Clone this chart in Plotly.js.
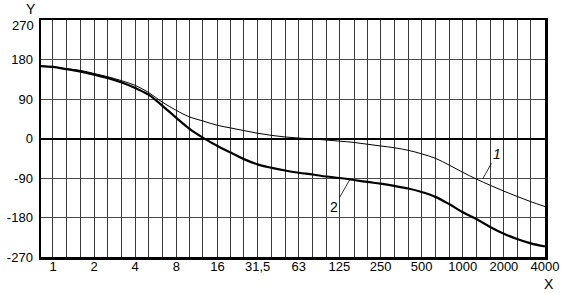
<!DOCTYPE html>
<html>
<head>
<meta charset="utf-8">
<script src="https://cdn.plot.ly/plotly-3.0.1.min.js"></script>
<style>html,body{margin:0;padding:0;background:#fff;}#chart{width:564px;height:293px;}</style>
</head>
<body>
<div id="chart"></div>
<script>
// Third-octave frequencies (nominal)
const freqs = [0.8, 1, 1.25, 1.6, 2, 2.5, 3.15, 4, 5, 6.3, 8, 10, 12.5, 16, 20, 25, 31.5, 40, 50, 63, 80, 100, 125, 160, 200, 250, 315, 400, 500, 630, 800, 1000, 1250, 1600, 2000, 2500, 3150, 4000];
// Curve 1 (thin)
const curve1 = [165, 163, 159, 155, 148, 141, 132, 121, 105, 83, 64, 49, 40, 30, 24, 18, 12, 7, 3.5, 1, -1, -3.5, -6, -9, -13, -17, -21, -27, -35, -45, -61, -77, -92, -107, -120, -132, -144, -155];
// Curve 2 (thick)
const curve2 = [165, 163, 158, 152.5, 145.5, 138, 128, 115, 100, 75, 47, 22, 2, -17, -32, -47, -59, -67, -73, -78, -82, -86.6, -90, -94.5, -99, -103, -108, -114, -122, -133, -150, -168, -183, -202, -217, -229, -239, -246];
// Grid / tick positions and labels
const gridFreqs = freqs.slice(1);
const labelMap = {1:"1", 2:"2", 4:"4", 8:"8", 16:"16", 31.5:"31,5", 63:"63", 125:"125", 250:"250", 500:"500", 1000:"1000", 2000:"2000", 4000:"4000"};
const tickText = gridFreqs.map(f => labelMap[f] !== undefined ? labelMap[f] : "");
const yTicks = [-270, -180, -90, 0, 90, 180, 270];
const yTickText = ["-270", "-180", "-90", "0", "90", "180", ""];
const yTopLabel = "270";

const font = {family: "Liberation Sans, Arial, sans-serif", size: 13, color: "#000"};

const traces = [
  {x: freqs, y: curve1, type: "scatter", mode: "lines", line: {color: "#000", width: 1, shape: "spline"}, name: "1", hoverinfo: "skip"},
  {x: freqs, y: curve2, type: "scatter", mode: "lines", line: {color: "#000", width: 2.2, shape: "spline"}, name: "2", hoverinfo: "skip"}
];

const layout = {
  width: 564, height: 293,
  margin: {l: 41, r: 19, t: 20, b: 36, pad: 0},
  paper_bgcolor: "#fff", plot_bgcolor: "#fff",
  showlegend: false,
  font: font,
  xaxis: {
    type: "log",
    range: [Math.log10(0.817), Math.log10(4000)],
    tickmode: "array", tickvals: gridFreqs, ticktext: tickText,
    showgrid: true, gridcolor: "#3a3a3a", gridwidth: 1,
    showline: true, linecolor: "#000", linewidth: 2.5, mirror: true,
    ticks: "", zeroline: false, tickfont: font, ticklabelstandoff: -4
  },
  yaxis: {
    range: [-270, 270],
    tickmode: "array", tickvals: yTicks, ticktext: yTickText,
    showgrid: true, gridcolor: "#4a4a4a", gridwidth: 1,
    zeroline: true, zerolinecolor: "#000", zerolinewidth: 2,
    showline: true, linecolor: "#000", linewidth: 2.5, mirror: true,
    ticks: "", tickfont: font, ticklabelstandoff: 3
  },
  annotations: [
    {xref: "paper", yref: "paper", x: -0.0099, y: 0.975, text: yTopLabel, showarrow: false, font: font, xanchor: "right", yanchor: "middle"},
    {xref: "paper", yref: "paper", x: -0.02, y: 1.045, text: "Y", showarrow: false, font: {family: font.family, size: 14, color: "#000"}, xanchor: "center", yanchor: "middle"},
    {xref: "paper", yref: "paper", x: 1.008, y: -0.114, text: "X", showarrow: false, font: {family: font.family, size: 14, color: "#000"}, xanchor: "center", yanchor: "middle"},
    {x: Math.log10(1400), y: -92, text: "<i>1</i>", showarrow: true, arrowhead: 0, arrowwidth: 0.8, arrowcolor: "#000", ax: 14, ay: -25, standoff: 0, font: {family: font.family, size: 14, color: "#000"}},
    {x: Math.log10(150), y: -92, text: "2", showarrow: true, arrowhead: 0, arrowwidth: 0.8, arrowcolor: "#000", ax: -16, ay: 28, standoff: 0, font: {family: font.family, size: 14, color: "#000"}}
  ]
};

Plotly.newPlot("chart", traces, layout, {staticPlot: true, displayModeBar: false});
</script>
</body>
</html>
